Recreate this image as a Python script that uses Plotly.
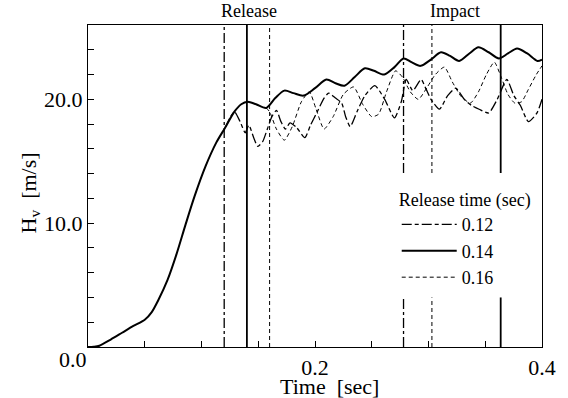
import plotly.graph_objects as go

# Common rising phase before any release (shared by all three runs)
t_common = [0.0, 0.005, 0.01, 0.02, 0.03, 0.04, 0.05, 0.056, 0.062, 0.07,
            0.078, 0.086, 0.094, 0.1036, 0.113, 0.1208]
hv_common = [0.0, 0.02, 0.1, 0.6, 1.15, 1.7, 2.2, 2.8, 3.8, 5.4,
             7.5, 9.9, 12.2, 14.6, 16.5, 17.7]

# Release at 0.14 s (continues the common phase)
t_014 = [0.129, 0.135, 0.1407, 0.148, 0.157, 0.165, 0.173, 0.181, 0.190,
         0.200, 0.210, 0.218, 0.226, 0.235, 0.244, 0.252, 0.261, 0.270,
         0.278, 0.285, 0.293, 0.302, 0.311, 0.319, 0.327, 0.336, 0.344,
         0.353, 0.362, 0.370, 0.378, 0.387, 0.396, 0.400]
hv_014 = [19.0, 19.6, 19.8, 19.6, 19.3, 20.1, 20.7, 20.5, 20.3,
          20.9, 21.6, 21.3, 21.1, 21.8, 22.5, 22.3, 22.0, 22.6,
          23.3, 23.0, 22.7, 23.2, 23.8, 23.5, 23.1, 23.7, 24.2,
          23.8, 23.3, 23.7, 24.1, 23.7, 23.1, 23.2]

# Release at 0.12 s
t_012 = [0.1208, 0.125, 0.129, 0.134, 0.1385, 0.1417, 0.146, 0.1496, 0.154,
         0.158, 0.162, 0.166, 0.170, 0.174, 0.178, 0.184, 0.191, 0.196,
         0.202, 0.208, 0.212, 0.218, 0.2235, 0.227, 0.231, 0.237, 0.244,
         0.2527, 0.2614, 0.270, 0.276, 0.2804, 0.2862, 0.2935, 0.298,
         0.3022, 0.3096, 0.3169, 0.324, 0.3315, 0.338, 0.3446, 0.353,
         0.3606, 0.369, 0.3752, 0.381, 0.388, 0.3956, 0.400]
hv_012 = [17.7, 18.5, 19.0, 18.2, 17.3, 17.9, 16.9, 16.2, 16.6,
          17.6, 18.6, 19.1, 18.2, 17.6, 18.1, 17.7, 16.9, 17.9,
          19.0, 20.1, 20.5, 20.1, 19.7, 18.6, 17.8, 19.0, 20.3,
          21.1, 20.0, 18.5, 19.8, 21.6, 20.7, 21.6, 20.8,
          20.0, 19.2, 20.3, 20.9, 20.0, 19.5, 19.2, 18.9,
          20.0, 21.6, 20.3, 19.5, 18.2, 18.9, 20.0]

# Release at 0.16 s
t_016 = [0.157, 0.160, 0.166, 0.173, 0.180, 0.188, 0.195, 0.201, 0.208,
         0.216, 0.225, 0.234, 0.242, 0.250, 0.256, 0.263, 0.271, 0.277,
         0.284, 0.291, 0.299, 0.306, 0.314, 0.321, 0.329, 0.337, 0.344,
         0.351, 0.358, 0.364, 0.370, 0.376, 0.382, 0.388, 0.395, 0.400]
hv_016 = [19.3, 19.0, 17.6, 16.7, 17.8, 19.8, 20.6, 19.2, 17.6,
          18.6, 20.4, 21.0, 19.6, 18.6, 18.8, 20.6, 22.3, 21.8,
          20.6, 20.0, 21.0, 22.0, 22.6, 21.4, 20.2, 19.7, 20.6,
          22.0, 23.0, 21.8, 20.4, 19.7, 19.8, 20.8, 22.0, 22.7]

release_times = [0.12, 0.14, 0.16]
impact_times = [0.278, 0.3636, 0.303]
legend_labels = ["0.12", "0.14", "0.16"]

x_tickvals = [0.2, 0.4]
x_ticktext = ["0.2", "0.4"]
y_tickvals = [10, 20]
y_ticktext = ["10.0", "20.0"]
origin_label = "0.0"

Y_MAX = 26.0
GAP_LOW, GAP_HIGH = 4.0, 14.05   # impact markers are interrupted around the legend

styles = {
    "0.12": dict(color="black", width=1.3, dash="10px,3px,4px,3px"),
    "0.14": dict(color="black", width=2.0),
    "0.16": dict(color="black", width=1.0, dash="4px,3px"),
}
marker_styles = {
    "0.12": dict(color="black", width=1.3, dash="10px,3px,3px,3px"),
    "0.14": dict(color="black", width=1.8),
    "0.16": dict(color="black", width=1.0, dash="4px,3px"),
}

fig = go.Figure()

# Release markers: full height
for lab, tr in zip(legend_labels, release_times):
    fig.add_trace(go.Scatter(x=[tr, tr], y=[0, Y_MAX], mode="lines",
                             line=marker_styles[lab], showlegend=False,
                             hoverinfo="skip"))

# Impact markers: broken behind the legend block
for lab, ti in zip(legend_labels, impact_times):
    fig.add_trace(go.Scatter(x=[ti, ti, None, ti, ti],
                             y=[0, GAP_LOW, None, GAP_HIGH, Y_MAX],
                             mode="lines", line=marker_styles[lab],
                             showlegend=False, hoverinfo="skip"))

# Curves
fig.add_trace(go.Scatter(x=t_012, y=hv_012, mode="lines", name="0.12",
                         line=dict(**styles["0.12"], shape="spline", smoothing=0.6)))
fig.add_trace(go.Scatter(x=t_common + t_014, y=hv_common + hv_014, mode="lines",
                         name="0.14",
                         line=dict(**styles["0.14"], shape="spline", smoothing=0.8)))
fig.add_trace(go.Scatter(x=t_016, y=hv_016, mode="lines", name="0.16",
                         line=dict(**styles["0.16"], shape="spline", smoothing=0.6)))

serif = "Liberation Serif, Times New Roman, serif"

fig.add_annotation(x=0.1418, y=1.0, xref="x", yref="paper", yanchor="bottom",
                   text="Release", showarrow=False, yshift=2,
                   font=dict(family=serif, size=18, color="black"))
fig.add_annotation(x=0.323, y=1.0, xref="x", yref="paper", yanchor="bottom",
                   text="Impact", showarrow=False, yshift=2,
                   font=dict(family=serif, size=18, color="black"))
fig.add_annotation(x=-0.163, y=0.48, xref="paper", yref="paper",
                   text="H<sub>v</sub>  [m/s]", textangle=-90, showarrow=False,
                   font=dict(family=serif, size=22, color="black"))
fig.add_annotation(x=0.2, y=0, xref="x", yref="paper", xanchor="center",
                   yanchor="top", xshift=14, yshift=-25,
                   text="Time  [sec]", showarrow=False,
                   font=dict(family=serif, size=22, color="black"))
# single shared origin label at the lower-left corner
fig.add_annotation(x=0, y=0, xref="x", yref="y", xanchor="right",
                   yanchor="top", xshift=1, yshift=2,
                   text=origin_label, showarrow=False,
                   font=dict(family=serif, size=22, color="black"))

fig.update_layout(
    width=568, height=398,
    margin=dict(l=88, r=23, t=25, b=51),
    paper_bgcolor="white", plot_bgcolor="white",
    font=dict(family=serif, size=22, color="black"),
    showlegend=True,
    legend=dict(
        title=dict(text="Release time (sec)", font=dict(family=serif, size=18)),
        font=dict(family=serif, size=18, color="black"),
        x=0.68, y=0.51, xanchor="left", yanchor="top",
        itemwidth=55,
        bgcolor="rgba(0,0,0,0)", borderwidth=0,
    ),
    xaxis=dict(
        range=[0, 0.4], tickvals=x_tickvals, ticktext=x_ticktext,
        ticks="inside", ticklen=6, tickcolor="black",
        showline=True, linecolor="black", linewidth=1.2, mirror=True,
        showgrid=False, zeroline=False,
        minor=dict(dtick=0.05, ticks="inside", ticklen=6, tickcolor="black", showgrid=False),
    ),
    yaxis=dict(
        range=[0, Y_MAX], tickvals=y_tickvals, ticktext=y_ticktext,
        ticks="inside", ticklen=6, tickcolor="black",
        showline=True, linecolor="black", linewidth=1.2, mirror=True,
        showgrid=False, zeroline=False,
        minor=dict(dtick=2, ticks="inside", ticklen=6, tickcolor="black", showgrid=False),
    ),
)

fig.write_html("out.html")
